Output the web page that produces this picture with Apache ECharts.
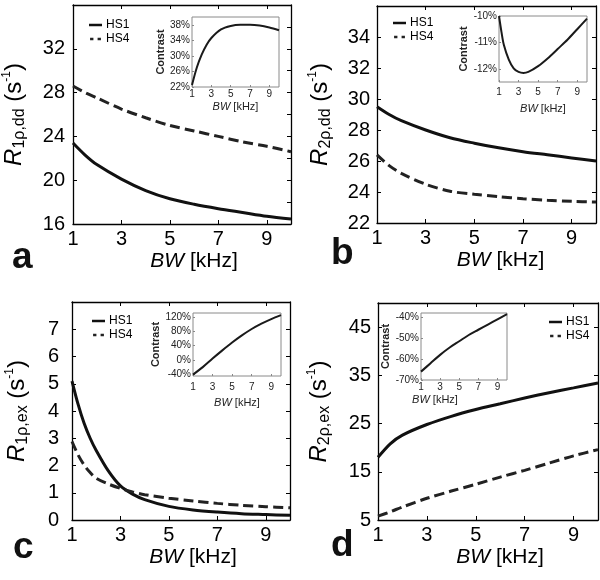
<!DOCTYPE html>
<html><head><meta charset="utf-8">
<script src="https://cdn.jsdelivr.net/npm/echarts@6/dist/echarts.min.js"></script>
<style>html,body{margin:0;padding:0;background:#fff}#c{width:600px;height:580px}</style>
</head><body><div id="c"></div>
<script>
// ---- data ----
const bwMain = [1, 1.5, 2, 3, 4, 5, 6, 7, 8, 9, 10];
const r1ddHS1 = [23.4, 22.3, 21.4, 20.1, 19.05, 18.3, 17.8, 17.4, 17.05, 16.7, 16.45];
const r1ddHS4 = [28.6, 28.0, 27.5, 26.5, 25.7, 25.0, 24.5, 24.0, 23.5, 23.1, 22.6];
const r2ddHS1 = [29.5, 29.0, 28.6, 28.0, 27.5, 27.15, 26.85, 26.6, 26.4, 26.2, 26.0];
const r2ddHS4 = [26.4, 25.7, 25.2, 24.5, 24.05, 23.85, 23.7, 23.57, 23.47, 23.4, 23.35];
const bwEx = [1, 1.25, 1.5, 1.75, 2, 2.5, 3, 3.5, 4, 5, 6, 7, 8, 9, 10];
const r1exHS1 = [5.1, 4.25, 3.55, 3.0, 2.55, 1.8, 1.25, 0.95, 0.75, 0.5, 0.37, 0.29, 0.23, 0.2, 0.17];
const r1exHS4 = [2.88, 2.39, 2.02, 1.74, 1.53, 1.32, 1.16, 1.03, 0.93, 0.80, 0.70, 0.61, 0.54, 0.49, 0.45];
const r2exHS1 = [18.0, 20.8, 22.6, 24.8, 26.5, 27.9, 29.1, 30.3, 31.4, 32.4, 33.4];
const r2exHS4 = [5.8, 6.7, 7.7, 9.5, 11.0, 12.4, 13.9, 15.3, 16.8, 18.3, 19.6];

const bwInsetA = [1, 1.5, 2, 2.5, 3, 4, 5, 6, 7, 8, 9, 10];
const contrastA = [22.5, 27, 30.3, 32.8, 34.6, 36.8, 37.7, 38.0, 38.0, 37.8, 37.3, 36.6];
const bwInsetB = [1, 1.25, 1.5, 2, 2.5, 3, 3.5, 4, 5, 6, 7, 8, 9, 10];
const contrastB = [-10.0, -10.6, -11.1, -11.65, -11.98, -12.12, -12.16, -12.12, -11.9, -11.6, -11.25, -10.9, -10.5, -10.1];
const bwInset = [1, 2, 3, 4, 5, 6, 7, 8, 9, 10];
const contrastC = [-41, -20, 4, 27, 49, 69, 87, 102, 115, 126];
const contrastD = [-66, -62, -58, -54.5, -51.5, -48.5, -46, -43.5, -41, -38.5];

const seriesNames = ['HS1', 'HS4'];
const insetYTitle = 'Contrast';

// ---- build ----
const FONT = '"Liberation Sans", Arial, sans-serif';
const zip = (xs, ys) => xs.map((x, i) => [x, ys[i]]);
const grids = [], xAxes = [], yAxes = [], series = [], legends = [];

function noSplit() { return { show: false }; }

function mainPanel(c) {
  const g = grids.length;
  grids.push({ left: c.l, top: c.t, width: c.w, height: c.h });
  const xi = xAxes.length, yi = yAxes.length;
  const lineS = { color: '#000', width: 1.3 };
  xAxes.push({
    type: 'value', gridIndex: g, min: 1, max: 10, interval: 2, position: 'bottom',
    axisLine: { show: true, onZero: false, lineStyle: lineS },
    axisTick: { inside: true, length: 4, lineStyle: { color: '#000' } },
    axisLabel: { showMaxLabel: false, color: '#000', fontSize: 20, fontFamily: FONT, margin: 5 },
    splitLine: noSplit(),
    name: '{i|BW} [kHz]', nameLocation: 'middle', nameGap: c.xGap,
    nameTextStyle: { color: '#000', fontSize: 21, fontFamily: FONT, padding: [0, 0, 0, c.xPad],
      rich: { i: { fontStyle: 'italic', fontSize: 21, fontFamily: FONT, color: '#000' } } }
  });
  xAxes.push({
    type: 'value', gridIndex: g, min: 1, max: 10, interval: 2, position: 'top',
    axisLine: { show: true, onZero: false, lineStyle: lineS },
    axisTick: { inside: true, length: 4, lineStyle: { color: '#000' } },
    axisLabel: { show: false }, splitLine: noSplit()
  });
  yAxes.push({
    type: 'value', gridIndex: g, min: c.ymin, max: c.ymax, interval: c.yint, position: 'left',
    axisLine: { show: true, onZero: false, lineStyle: lineS },
    axisTick: { inside: true, length: 4, lineStyle: { color: '#000' } },
    axisLabel: { showMaxLabel: false, color: '#000', fontSize: 20, fontFamily: FONT, margin: c.yMargin },
    splitLine: noSplit(),
    name: c.yName, nameLocation: 'middle', nameRotate: 90, nameGap: c.yGap,
    nameTextStyle: { color: '#000', fontFamily: FONT,
      rich: {
        r: { fontStyle: 'italic', fontSize: 24, fontFamily: FONT, color: '#000', lineHeight: 27 },
        s: { fontSize: 16, fontFamily: FONT, color: '#000', verticalAlign: 'bottom', lineHeight: 15 },
        n: { fontSize: 24, fontFamily: FONT, color: '#000', lineHeight: 27 },
        p: { fontSize: 12, fontFamily: FONT, color: '#000', verticalAlign: 'top', lineHeight: 14 }
      } }
  });
  yAxes.push({
    type: 'value', gridIndex: g, min: c.ymin, max: c.ymax, interval: c.rint, position: 'right',
    axisLine: { show: true, onZero: false, lineStyle: lineS },
    axisTick: { inside: true, length: 4, lineStyle: { color: '#000' } },
    axisLabel: { show: false }, splitLine: noSplit()
  });
  series.push({ name: seriesNames[0], type: 'line', xAxisIndex: xi, yAxisIndex: yi, data: zip(c.x, c.s1),
    symbol: 'none', smooth: 0.3, lineStyle: { color: '#111', width: 3 }, itemStyle: { color: '#111' } });
  series.push({ name: seriesNames[1], type: 'line', xAxisIndex: xi, yAxisIndex: yi, data: zip(c.x, c.s4),
    symbol: 'none', smooth: 0.3, lineStyle: { color: '#222', width: 3, type: [10, 5] }, itemStyle: { color: '#222' } });
  legends.push({
    orient: 'vertical', left: c.lgL, top: c.lgT, padding: 0, itemGap: 0, itemWidth: 13, itemHeight: 2.5,
    textStyle: { fontSize: 12, fontFamily: FONT, color: '#000', lineHeight: 14, padding: [0, 0, 0, -1] },
    selectedMode: false,
    data: [
      { name: seriesNames[0], icon: 'rect', itemStyle: { color: '#111' } },
      { name: seriesNames[1], icon: 'path://M0,0h4v3h-4z M9,0h4v3h-4z', itemStyle: { color: '#222' } }
    ]
  });
}

function insetPanel(c) {
  const g = grids.length;
  grids.push({ left: c.l, top: c.t, width: c.w, height: c.h, show: true, borderColor: '#8a8a8a', borderWidth: 1, backgroundColor: '#fff', z: 5 });
  const xi = xAxes.length, yi = yAxes.length;
  xAxes.push({
    type: 'value', gridIndex: g, min: 1, max: 10, interval: 2, position: 'bottom', z: 6,
    axisLine: { show: false, onZero: false },
    axisTick: { inside: true, length: 2, lineStyle: { color: '#888' } },
    axisLabel: { showMaxLabel: false, color: '#222', fontSize: 10, fontFamily: FONT, margin: c.xlm },
    splitLine: noSplit(),
    name: '{i|BW} [kHz]', nameLocation: 'middle', nameGap: c.xGap,
    nameTextStyle: { color: '#222', fontSize: 11, fontFamily: FONT, padding: c.xPad || 0,
      rich: { i: { fontStyle: 'italic', fontSize: 11, fontFamily: FONT, color: '#222' } } }
  });
  const yAx = {
    type: 'value', gridIndex: g, min: c.ymin, max: c.ymax, position: 'left', z: 6,
    axisLine: { show: false, onZero: false },
    axisTick: { inside: true, length: 2, lineStyle: { color: '#888' } },
    axisLabel: { showMaxLabel: false, color: '#222', fontSize: 10, fontFamily: FONT, margin: 2, formatter: v => v + '%' },
    splitLine: noSplit(),
    name: insetYTitle, nameLocation: 'middle', nameRotate: 90, nameGap: c.yGap,
    nameTextStyle: { color: '#222', fontSize: 11, fontWeight: 'bold', fontFamily: FONT }
  };
  if (c.custom) {
    yAx.axisLabel.customValues = c.custom;
    yAx.axisTick.customValues = c.custom;
    yAx.axisLabel.showMaxLabel = true;
  } else {
    yAx.interval = c.yint;
  }
  yAxes.push(yAx);
  series.push({ name: 'contrast' + g, type: 'line', xAxisIndex: xi, yAxisIndex: yi, data: zip(c.x, c.y), z: 7,
    symbol: 'none', smooth: 0.3, lineStyle: { color: '#1a1a1a', width: 2 } });
}

const yNameA = '{r|R}{s|1ρ,dd}{n| (s}{p|-1}{n|)}';
const yNameB = '{r|R}{s|2ρ,dd}{n| (s}{p|-1}{n|)}';
const yNameC = '{r|R}{s|1ρ,ex}{n| (s}{p|-1}{n|)}';
const yNameD = '{r|R}{s|2ρ,ex}{n| (s}{p|-1}{n|)}';

mainPanel({ l: 72, t: 5, w: 219, h: 219, ymin: 16, ymax: 36, yint: 4, rint: 2, yMargin: 8, yGap: 45, xGap: 27, xPad: 24,
  yName: yNameA, x: bwMain, s1: r1ddHS1, s4: r1ddHS4, lgL: 89, lgT: 18 });
mainPanel({ l: 377, t: 6, w: 219, h: 217, ymin: 22, ymax: 36, yint: 2, rint: 2, yMargin: 7, yGap: 43, xGap: 27, xPad: 28,
  yName: yNameB, x: bwMain, s1: r2ddHS1, s4: r2ddHS4, lgL: 393, lgT: 16 });
mainPanel({ l: 72, t: 302, w: 218, h: 218, ymin: 0, ymax: 8, yint: 1, rint: 1, yMargin: 13, yGap: 41, xGap: 27, xPad: 24,
  yName: yNameC, x: bwEx, s1: r1exHS1, s4: r1exHS4, lgL: 92, lgT: 314 });
mainPanel({ l: 378, t: 303, w: 220, h: 217, ymin: 5, ymax: 50, yint: 10, rint: 10, yMargin: 7, yGap: 45, xGap: 27, xPad: 24,
  yName: yNameD, x: bwMain, s1: r2exHS1, s4: r2exHS4, lgL: 549, lgT: 315 });

insetPanel({ l: 192, t: 17, w: 87, h: 70, ymin: 22, ymax: 40, yint: 4, xlm: 2, xGap: 14, yGap: 26, x: bwInsetA, y: contrastA });
insetPanel({ l: 499, t: 16, w: 88, h: 66, ymin: -12.5, ymax: -10, custom: [-12, -11, -10], xlm: 5, xGap: 21, yGap: 30, x: bwInsetB, y: contrastB });
insetPanel({ l: 193, t: 313, w: 88, h: 63, ymin: -45, ymax: 132, custom: [-40, 0, 40, 80, 120], xlm: 6, xGap: 21, yGap: 30, x: bwInset, y: contrastC });
insetPanel({ l: 421, t: 313, w: 86, h: 67, ymin: -70, ymax: -38, yint: 10, xlm: 2, xGap: 14, yGap: 28, xPad: [0, 58, 0, 0], x: bwInset, y: contrastD });

const letters = [
  { t: 'a', x: 12, y: 261 }, { t: 'b', x: 331, y: 257 },
  { t: 'c', x: 13, y: 551 }, { t: 'd', x: 331, y: 549 }
];
const graphic = letters.map(L => ({
  type: 'text', left: L.x, top: L.y - 22, z: 10,
  style: { text: L.t, fontSize: 37, fontWeight: 'bold', fontFamily: FONT, fill: '#111' }
}));

const chart = echarts.init(document.getElementById('c'), null, { renderer: 'canvas' });
chart.setOption({
  animation: false,
  backgroundColor: '#fff',
  grid: grids, xAxis: xAxes, yAxis: yAxes, series: series, legend: legends, graphic: graphic
});
</script></body></html>
